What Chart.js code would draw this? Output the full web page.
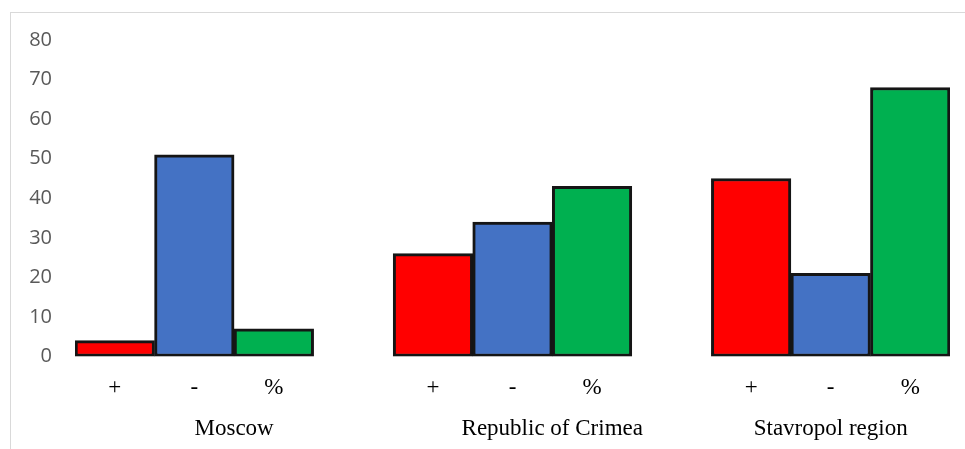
<!DOCTYPE html>
<html>
<head>
<meta charset="utf-8">
<script src="https://cdn.jsdelivr.net/npm/chart.js@4"></script>
<style>
  html, body { margin: 0; padding: 0; background: #fff; overflow: hidden; }
  #wrap { position: relative; width: 965px; height: 449px; }
  #frame { position: absolute; left: 10px; top: 12px; width: 1000px; height: 500px;
           border-top: 1px solid #d9d9d9; border-left: 1px solid #d9d9d9; }
  canvas { position: absolute; left: 0; top: 0; }
</style>
</head>
<body>
<div id="wrap">
  <div id="frame"></div>
  <canvas id="c" width="965" height="449"></canvas>
</div>
<script>
// ---- data ----
const regions = ["Moscow", "Republic of Crimea", "Stavropol region"];
const seriesNames = ["+", "-", "%"];
const plusValues  = [4, 26, 45];
const minusValues = [51, 34, 21];
const pctValues   = [7, 43, 68];
const yTicks = [0, 10, 20, 30, 40, 50, 60, 70, 80];

const seriesColors = ["#FF0000", "#4472C4", "#00B050"];

// build 11 category slots: 3 bars per region + blank spacer between regions
const slotLabels = [], slotValues = [], slotColors = [], groupSlots = [];
const seriesData = [plusValues, minusValues, pctValues];
regions.forEach((r, g) => {
  const start = slotLabels.length;
  seriesNames.forEach((s, i) => {
    slotLabels.push(s);
    slotValues.push(seriesData[i][g]);
    slotColors.push(seriesColors[i]);
  });
  if (g < regions.length - 1) {
    slotLabels.push("");
    slotValues.push(null);
    slotColors.push("rgba(0,0,0,0)");
  }
  groupSlots.push([start, slotLabels.length - 1]);
});

const groupLabelPlugin = {
  id: 'groupLabels',
  afterDraw(chart) {
    const ctx = chart.ctx;
    const xs = chart.scales.x;
    ctx.save();
    ctx.font = '23px "Liberation Serif", "Times New Roman", serif';
    ctx.fillStyle = '#000';
    ctx.textAlign = 'center';
    ctx.textBaseline = 'alphabetic';
    regions.forEach((r, g) => {
      const [a, b] = groupSlots[g];
      const x = (xs.getPixelForValue(a) + xs.getPixelForValue(b)) / 2;
      ctx.fillText(r, x, 435);
    });
    ctx.restore();
  }
};

new Chart(document.getElementById('c'), {
  type: 'bar',
  data: {
    labels: slotLabels,
    datasets: [{
      data: slotValues,
      backgroundColor: slotColors,
      borderColor: '#151515',
      borderWidth: 3,
      borderSkipped: false,
      barPercentage: 1,
      categoryPercentage: 1
    }]
  },
  options: {
    responsive: false,
    animation: false,
    devicePixelRatio: 1,
    layout: { padding: { left: 10, right: 15, top: 40, bottom: 0 } },
    plugins: { legend: { display: false }, tooltip: { enabled: false } },
    scales: {
      x: {
        grid: { display: false, drawTicks: false },
        border: { display: false },
        ticks: {
          autoSkip: false, maxRotation: 0, minRotation: 0,
          color: '#000',
          padding: 18,
          font: { family: '"Liberation Serif", "Times New Roman", serif', size: 23 }
        },
        afterFit(scale) { scale.height = 92.5; }
      },
      y: {
        min: 0, max: 80,
        afterBuildTicks(scale) { scale.ticks = yTicks.map(v => ({ value: v })); },
        grid: { display: false, drawTicks: false },
        border: { display: false },
        ticks: {
          color: '#595959',
          padding: 23,
          font: { family: '"Open Sans", sans-serif', size: 20 }
        },
        afterFit(scale) { scale.width = 65; }
      }
    }
  },
  plugins: [groupLabelPlugin]
});
</script>
</body>
</html>
